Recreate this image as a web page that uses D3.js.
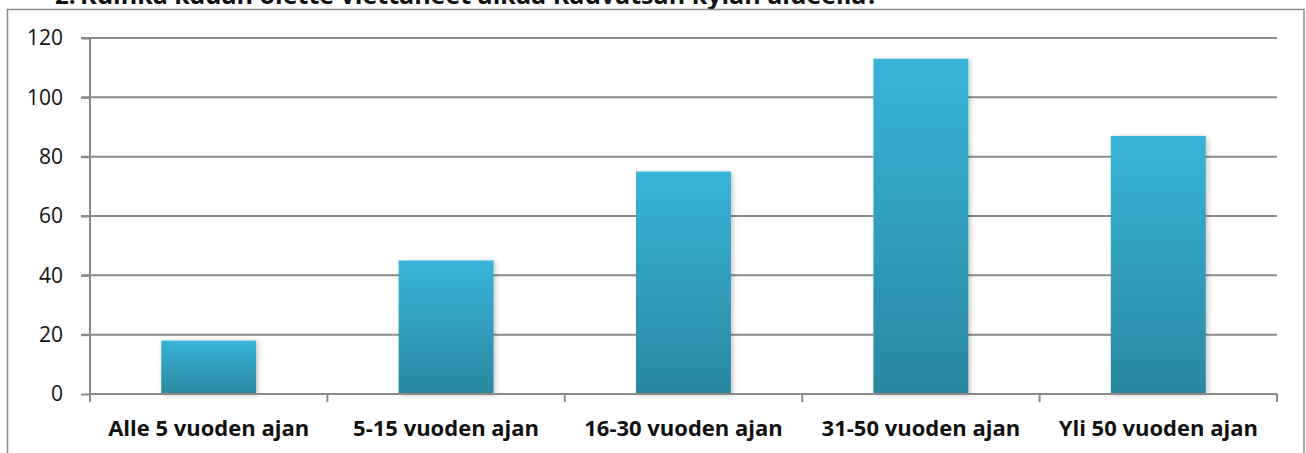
<!DOCTYPE html>
<html>
<head>
<meta charset="utf-8">
<script src="https://cdn.jsdelivr.net/npm/d3@7"></script>
<style>
  html, body { margin: 0; padding: 0; background: #fff; }
  svg { display: block; }
</style>
</head>
<body>
<svg id="chart" width="1306" height="453"></svg>
<script>
const titleNumber = "2.";
const titleText = "Kuinka kauan olette viettäneet aikaa Kauvatsan kylän alueella?";
const categories = ["Alle 5 vuoden ajan", "5-15 vuoden ajan", "16-30 vuoden ajan", "31-50 vuoden ajan", "Yli 50 vuoden ajan"];
const values = [18, 45, 75, 113, 87];
const yTicks = [0, 20, 40, 60, 80, 100, 120];

const FONT = "'Open Sans', Lato, sans-serif";
const svg = d3.select("#chart");
const W = 1306, H = 453;
const margin = { left: 90, right: 1306 - 1277, top: 38, bottom: 453 - 394 };

const defs = svg.append("defs");
const grad = defs.append("linearGradient").attr("id", "barGrad")
  .attr("x1", 0).attr("y1", 0).attr("x2", 0).attr("y2", 1);
grad.append("stop").attr("offset", "0%").attr("stop-color", "#38b4d8");
grad.append("stop").attr("offset", "100%").attr("stop-color", "#2a88a0");

const filt = defs.append("filter").attr("id", "shadow")
  .attr("x", "-20%").attr("y", "-20%").attr("width", "140%").attr("height", "140%");
filt.append("feDropShadow").attr("dx", 2).attr("dy", 1).attr("stdDeviation", 2.5)
  .attr("flood-color", "#000").attr("flood-opacity", 0.22);

// title (cut off at top edge, as in the reference)
svg.append("text")
  .attr("x", 55).attr("y", 4)
  .attr("font-family", FONT).attr("font-weight", "bold").attr("font-size", 24)
  .attr("fill", "#111").text(titleNumber);
const t = svg.append("text")
  .attr("x", 80).attr("y", 4)
  .attr("font-family", FONT).attr("font-weight", "bold").attr("font-size", 24)
  .attr("fill", "#111").text(titleText);
const tl = t.node().getComputedTextLength();
t.attr("font-size", 24 * (879 - 80) / tl);

// outer frame
svg.append("rect")
  .attr("x", 7.5).attr("y", 9.5)
  .attr("width", 1304 - 7.5).attr("height", 460)
  .attr("fill", "none").attr("stroke", "#8c8c8c").attr("stroke-width", 1.5);

const x = d3.scaleBand().domain(categories)
  .range([margin.left, W - margin.right])
  .paddingInner(0.6).paddingOuter(0.3);
const y = d3.scaleLinear().domain([0, 120]).range([H - margin.bottom, margin.top]);

// gridlines
svg.append("g").selectAll("line").data(yTicks.filter(d => d > 0)).join("line")
  .attr("x1", margin.left - 9).attr("x2", W - margin.right)
  .attr("y1", d => y(d)).attr("y2", d => y(d))
  .attr("stroke", "#8a8a8a").attr("stroke-width", 2);

// y axis
const yAxis = svg.append("g").attr("transform", `translate(${margin.left},0)`)
  .call(d3.axisLeft(y).tickValues(yTicks).tickSize(9).tickPadding(18));
yAxis.select(".domain").remove();
yAxis.selectAll(".tick line").attr("stroke", "#8a8a8a").attr("stroke-width", 2);
yAxis.selectAll(".tick text")
  .attr("font-family", FONT)
  .attr("font-size", 21).attr("fill", "#111");
svg.append("line")
  .attr("x1", margin.left).attr("x2", margin.left)
  .attr("y1", margin.top).attr("y2", y(0) + 8)
  .attr("stroke", "#8a8a8a").attr("stroke-width", 2);

// bars
svg.append("g").selectAll("rect").data(values).join("rect")
  .attr("x", (d, i) => x(categories[i]))
  .attr("y", d => y(d))
  .attr("width", x.bandwidth())
  .attr("height", d => y(0) - y(d))
  .attr("fill", "url(#barGrad)")
  .attr("filter", "url(#shadow)");

// x axis
const xAxisG = svg.append("g");
xAxisG.append("line")
  .attr("x1", margin.left).attr("x2", W - margin.right)
  .attr("y1", y(0)).attr("y2", y(0))
  .attr("stroke", "#8a8a8a").attr("stroke-width", 2);
const tickPos = categories.map(c => x(c) - (x.step() - x.bandwidth()) / 2).concat([W - margin.right]);
xAxisG.selectAll("line.t").data(tickPos).join("line").attr("class", "t")
  .attr("x1", d => d).attr("x2", d => d)
  .attr("y1", y(0)).attr("y2", y(0) + 8)
  .attr("stroke", "#8a8a8a").attr("stroke-width", 2);
xAxisG.selectAll("text").data(categories).join("text")
  .attr("x", c => x(c) + x.bandwidth() / 2)
  .attr("y", 436)
  .attr("text-anchor", "middle")
  .attr("font-family", FONT)
  .attr("font-weight", "bold")
  .attr("font-size", 22)
  .attr("fill", "#111")
  .text(c => c);
</script>
</body>
</html>
